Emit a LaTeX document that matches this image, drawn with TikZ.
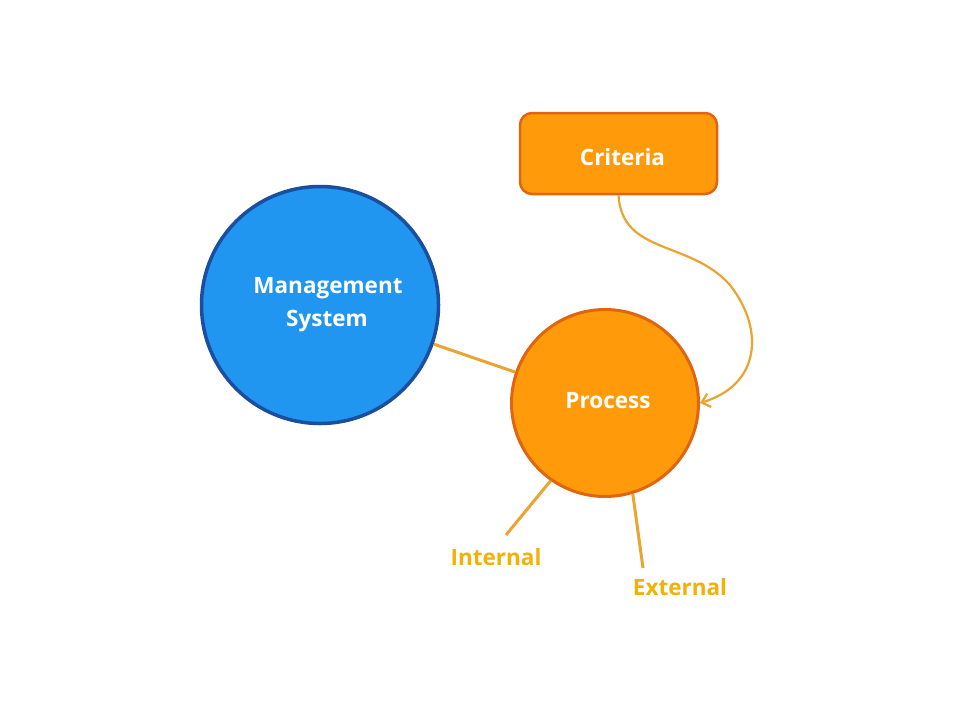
\documentclass[tikz,border=0pt]{standalone}
\usepackage{fontspec}
\setmainfont{Open Sans}
\usetikzlibrary{arrows.meta}
\definecolor{bluefill}{HTML}{2196F0}
\definecolor{blueedge}{HTML}{1A4E9E}
\definecolor{orfill}{HTML}{FF9A0A}
\definecolor{oredge}{HTML}{E0650F}
\definecolor{linkcol}{HTML}{EAA431}
\definecolor{labcol}{HTML}{F2B10A}
\tikzset{
  txt/.style={font=\bfseries\fontsize{22.5}{33}\selectfont},
  bigcirc/.style={circle, draw=blueedge, fill=bluefill, line width=3.5pt, minimum size=237pt, inner sep=0pt, text=white, txt, align=center},
  proccirc/.style={circle, draw=oredge, fill=orfill, line width=3pt, minimum size=187pt, inner sep=0pt, text=white, txt},
  critbox/.style={rectangle, rounded corners=12pt, draw=oredge, fill=orfill, line width=2.5pt, minimum width=197pt, minimum height=81pt, text=white, txt},
  link/.style={draw=linkcol, line width=3pt},
  arrowlink/.style={draw=linkcol, line width=2.2pt, -{Straight Barb[length=8pt,width=14pt,line width=2.2pt]}},
  lab/.style={text=labcol, txt}
}
\begin{document}
\begin{tikzpicture}[x=1pt,y=-1pt]
\useasboundingbox[fill=white] (0,0) rectangle (960,720);
\node[bigcirc] (ms) at (320,305) {\hspace{16pt}Management\\\hspace{14pt}System};
\node[proccirc] (proc) at (605,403) {\raisebox{2pt}[\height][\depth]{\hspace{6pt}Process}};
\node[critbox] (crit) at (618.5,153.5) {\raisebox{-4pt}[\height][\depth]{\hspace{8pt}Criteria}};
\draw[link] (ms) -- (proc);
\draw[arrowlink] (crit.south) .. controls (622,255) and (690,240) .. (730,285)
  .. controls (765,330) and (760,385) .. (proc.east);
\coordinate (intend) at (506,535);
\coordinate (extend) at (643,568);
\draw[link] (proc.235) -- (intend);
\draw[link] (proc.287) -- (extend);
\node[lab] (intl) at (496,557) {Internal};
\node[lab] (extl) at (680,587) {External};
\end{tikzpicture}
\end{document}
